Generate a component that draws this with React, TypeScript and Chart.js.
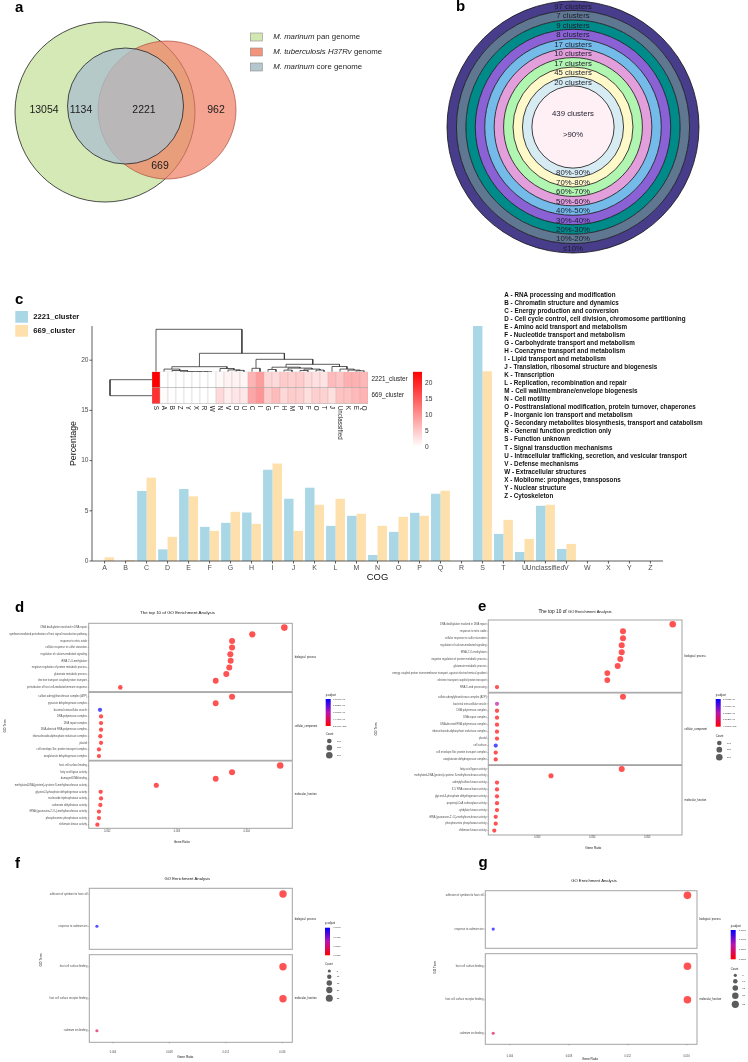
import React, { useEffect, useRef } from "react";
import { Chart, registerables } from "chart.js";

Chart.register(...registerables);

const W = 748;
const H = 1062;
const SANS = "'Liberation Sans', Arial, Helvetica, sans-serif";

// ================= Panel a : Venn =================
const vennSetNames = ["M. marinum pan genome", "M. tuberculosis H37Rv genome", "M. marinum core genome"];
const vennLegendParts: [string, boolean][][] = [
  [["M. marinum", true], [" pan genome", false]],
  [["M. tuberculosis H37Rv", true], [" genome", false]],
  [["M. marinum", true], [" core genome", false]],
];
// circle geometry in panel units (x 0..374, y 0..250)
const vennCircles = [
  { x: 105, y: 112, r: 90 },
  { x: 167, y: 110, r: 69 },
  { x: 125.5, y: 106, r: 58 },
];
const vennFill = ["#d5e9b6", "rgba(241,126,98,0.7)", "rgba(169,191,205,0.75)"];
const vennStroke = ["#222222", "rgba(160,70,50,0.8)", "#222222"];
const vennLegendFill = ["#d3e8b1", "#f4937b", "#b3c7cc"];
const vennRegionCounts = [13054, 1134, 2221, 962, 669];
const vennRegionAnchors = [[44, 110], [81, 110], [144, 110], [216, 110], [160, 166]];

// ================= Panel b : rings =================
const ringClusters = [97, 7, 9, 8, 17, 10, 17, 45, 20, 439];
const ringRanges = ["≤10%", "10%-20%", "20%-30%", "30%-40%", "40%-50%", "50%-60%", "60%-70%", "70%-80%", "80%-90%", ">90%"];
const ringColors = ["#483d8b", "#5f7791", "#008b8b", "#8a62d6", "#74bbea", "#e29fdc", "#b0f5b0", "#fff8c8", "#d6ecf2", "#fff0f5"];

// ================= Panel c : COG bars =================
const cogCategories = ["A", "B", "C", "D", "E", "F", "G", "H", "I", "J", "K", "L", "M", "N", "O", "P", "Q", "R", "S", "T", "U", "Unclassified", "V", "W", "X", "Y", "Z"];
const pct2221 = [0, 0, 6.97, 1.16, 7.17, 3.4, 3.8, 4.83, 9.1, 6.2, 7.3, 3.5, 4.5, 0.6, 2.9, 4.8, 6.7, 0, 23.4, 2.7, 0.9, 5.5, 1.2, 0, 0, 0, 0];
const pct669 = [0.37, 0.1, 8.3, 2.4, 6.44, 3.0, 4.9, 3.7, 9.7, 3.0, 5.6, 6.2, 4.7, 3.5, 4.4, 4.5, 7.0, 0, 18.9, 4.1, 2.2, 5.6, 1.7, 0, 0, 0, 0];
const seriesNames = ["2221_cluster", "669_cluster"];
const seriesColors = ["#aad7e6", "#fee0ad"];
const yTicksC = [0, 5, 10, 15, 20];
const cogDescriptions = [
  "A - RNA processing and modification",
  "B - Chromatin structure and dynamics",
  "C - Energy production and conversion",
  "D - Cell cycle control, cell division, chromosome partitioning",
  "E - Amino acid transport and metabolism",
  "F - Nucleotide transport and metabolism",
  "G - Carbohydrate transport and metabolism",
  "H - Coenzyme transport and metabolism",
  "I - Lipid transport and metabolism",
  "J - Translation, ribosomal structure and biogenesis",
  "K - Transcription",
  "L - Replication, recombination and repair",
  "M - Cell wall/membrane/envelope biogenesis",
  "N - Cell motility",
  "O - Posttranslational modification, protein turnover, chaperones",
  "P - Inorganic ion transport and metabolism",
  "Q - Secondary metabolites biosynthesis, transport and catabolism",
  "R - General function prediction only",
  "S - Function unknown",
  "T - Signal transduction mechanisms",
  "U - Intracellular trafficking, secretion, and vesicular transport",
  "V - Defense mechanisms",
  "W - Extracellular structures",
  "X - Mobilome: prophages, transposons",
  "Y - Nuclear structure",
  "Z - Cytoskeleton",
];
// heatmap (clustered column order)
const heatmapOrder = ["S", "A", "B", "Z", "Y", "X", "R", "W", "N", "V", "D", "U", "C", "I", "G", "L", "H", "M", "P", "F", "O", "T", "J", "Unclassified", "K", "E", "Q"];
const heatLegendTicks = [0, 5, 10, 15, 20];
// column dendrogram: [height, left, right]; leaves = column index in heatmapOrder
const colDendrogram: any = [42.4, 0, [18.4,
  [5, [2.6, 1, [1.2, 2, [0, 3, [0, 4, [0, 5, [0, 6, 7]]]]]], [3.2, 8, [1.8, 9, [1.3, 10, 11]]]],
  [12.4, [3.4, 12, 13], [7.4,
    [4.5, [2.2, 14, 15], [3.6, [1.6, 16, 17], [2.6, [1.2, 18, 19], [1.6, 20, 21]]]],
    [5.2, 22, [2.6, 23, [1.6, 24, [0.9, 25, 26]]]]]]]];
const rowDendrogramHeight = 42;

// ================= Panels d-g : GO dot plots =================
const dBpTerms = [
  "DNA dealkylation involved in DNA repair",
  "symbiont-mediated perturbation of host signal transduction pathway",
  "response to nitric oxide",
  "cellular response to sulfur starvation",
  "regulation of calcium-mediated signaling",
  "tRNA 2'-O-methylation",
  "negative regulation of protein metabolic process",
  "glutamate metabolic process",
  "electron transport coupled proton transport",
  "perturbation of host cell-mediated immune response",
];
const dBpRatio = [0.00454, 0.00408, 0.00379, 0.00379, 0.003765, 0.00377, 0.00375, 0.003707, 0.003555, 0.002187];
const dBpCount = [202, 182, 169, 169, 168, 168, 167, 165, 158, 97];
const dBpPadj = [1e-200, 1e-120, 1e-90, 1e-90, 1e-88, 1e-88, 1e-86, 1e-85, 1e-80, 1e-40];
const dCcTerms = [
  "sulfate adenylyltransferase complex (ATP)",
  "pyruvate dehydrogenase complex",
  "bacterial extracellular vesicle",
  "DNA polymerase complex",
  "DNA repair complex",
  "DNA-directed RNA polymerase complex",
  "ribonucleoside-diphosphate reductase complex",
  "plastid",
  "cell envelope Sec protein transport complex",
  "oxoglutarate dehydrogenase complex",
];
const dCcRatio = [0.00379, 0.003555, 0.001895, 0.00191, 0.00191, 0.00191, 0.0019, 0.00191, 0.00188, 0.00188];
const dCcCount = [169, 158, 84, 85, 85, 85, 85, 85, 84, 84];
const dCcPadj = [1e-90, 1e-80, 1.776e-6, 1e-30, 1e-30, 1e-30, 1e-30, 1e-30, 1e-30, 1e-30];
const dMfTerms = [
  "host cell surface binding",
  "fatty acid ligase activity",
  "damaged DNA binding",
  "methylated-DNA-[protein]-cysteine S-methyltransferase activity",
  "glycerol-3-phosphate dehydrogenase activity",
  "nucleoside triphosphatase activity",
  "carbonate dehydratase activity",
  "tRNA (guanosine-2'-O-)-methyltransferase activity",
  "phosphoserine phosphatase activity",
  "shikimate kinase activity",
];
const dMfRatio = [0.00448, 0.00379, 0.003555, 0.002703, 0.001905, 0.00191, 0.0019, 0.00188, 0.00188, 0.001857];
const dMfCount = [199, 169, 158, 120, 85, 85, 85, 84, 84, 83];
const dMfPadj = [1e-190, 1e-90, 1e-80, 1e-50, 1e-30, 1e-30, 1e-30, 1e-30, 1e-30, 1e-30];

const eBpTerms = [
  "DNA dealkylation involved in DNA repair",
  "response to nitric oxide",
  "cellular response to sulfur starvation",
  "regulation of calcium-mediated signaling",
  "tRNA 2'-O-methylation",
  "negative regulation of protein metabolic process",
  "glutamate metabolic process",
  "energy coupled proton transmembrane transport, against electrochemical gradient",
  "electron transport coupled proton transport",
  "RNA 5'-end processing",
];
const eBpRatio = [0.005462, 0.004558, 0.004558, 0.004535, 0.004535, 0.004509, 0.004462, 0.004273, 0.004273, 0.002267];
const eBpCount = [202, 169, 169, 168, 168, 167, 165, 158, 158, 84];
const eBpPadj = [1e-240, 1e-120, 1e-120, 1e-118, 1e-118, 1e-116, 1e-110, 1e-100, 1e-100, 1e-30];
const eCcTerms = [
  "sulfate adenylyltransferase complex (ATP)",
  "bacterial extracellular vesicle",
  "DNA polymerase complex",
  "DNA repair complex",
  "DNA-directed RNA polymerase complex",
  "ribonucleoside-diphosphate reductase complex",
  "plastid",
  "cell surface",
  "cell envelope Sec protein transport complex",
  "oxoglutarate dehydrogenase complex",
];
const eCcRatio = [0.004558, 0.002267, 0.002267, 0.002267, 0.002267, 0.002267, 0.002267, 0.002244, 0.002244, 0.002244];
const eCcCount = [169, 84, 84, 84, 84, 84, 84, 83, 83, 83];
const eCcPadj = [1e-120, 2.5e-6, 1e-30, 1e-30, 1e-30, 1e-30, 1e-30, 5.45e-6, 1e-30, 1e-30];
const eMfTerms = [
  "fatty acid ligase activity",
  "methylated-DNA-[protein]-cysteine S-methyltransferase activity",
  "adenylylsulfate kinase activity",
  "3'-5' RNA exonuclease activity",
  "glycerol-3-phosphate dehydrogenase activity",
  "propionyl-CoA carboxylase activity",
  "cytidylate kinase activity",
  "tRNA (guanosine-2'-O-)-methyltransferase activity",
  "phosphoserine phosphatase activity",
  "shikimate kinase activity",
];
const eMfRatio = [0.004535, 0.003249, 0.002267, 0.002267, 0.002267, 0.002267, 0.002267, 0.002244, 0.002244, 0.002218];
const eMfCount = [168, 120, 84, 84, 84, 84, 84, 83, 83, 82];
const eMfPadj = [1e-118, 1e-60, 1e-30, 1e-30, 1e-30, 1e-30, 1e-30, 1e-30, 1e-30, 1e-30];

const fgBpTerms = ["adhesion of symbiont to host cell", "response to cadmium ion"];
const fgBpRatio = [0.01605, 0.00286];
const fgBpCount = [28, 5];
const fgBpPadj = [0.0001, 0.0624];
const fgMfTerms = ["host cell surface binding", "host cell surface receptor binding", "cadmium ion binding"];
const fgMfRatio = [0.01605, 0.01605, 0.00286];
const fgMfCount = [28, 28, 5];
const fgMfPadj = [0.0001, 0.0001, 0.016];

const dTicks = [0.002, 0.003, 0.004];
const eTicks = [0.003, 0.004, 0.005];
const fgTicks = [0.004, 0.008, 0.012, 0.016];
const dPLabels = ["1.7760e-06", "1.3320e-06", "8.8800e-07", "4.4400e-07", "2.5400e-203"];
const ePLabels = ["5.4505e-06", "4.0879e-06", "2.7253e-06", "1.3626e-06", "4.7300e-243"];
const fgPLabels = ["0.0600", "0.0450", "0.0300", "0.0150"];
const deCountBreaks = [100, 150, 200];
const fgCountBreaks = [5, 10, 15, 20, 25];

// ================= helpers =================
type TOpt = { weight?: string; style?: string; color?: string; align?: CanvasTextAlign; baseline?: CanvasTextBaseline; rot?: number };
function txt(ctx: CanvasRenderingContext2D, s: string, x: number, y: number, size: number, o: TOpt = {}) {
  ctx.save();
  ctx.font = `${o.style || "normal"} ${o.weight || "normal"} ${size}px ${SANS}`;
  ctx.fillStyle = o.color || "#000";
  ctx.textAlign = o.align || "left";
  ctx.textBaseline = o.baseline || "middle";
  ctx.translate(x, y);
  if (o.rot) ctx.rotate(o.rot);
  ctx.fillText(s, 0, 0);
  ctx.restore();
}
function line(ctx: CanvasRenderingContext2D, x1: number, y1: number, x2: number, y2: number, color: string, w: number) {
  ctx.save();
  ctx.strokeStyle = color;
  ctx.lineWidth = w;
  ctx.beginPath();
  ctx.moveTo(x1, y1);
  ctx.lineTo(x2, y2);
  ctx.stroke();
  ctx.restore();
}
function base(box: number[]) {
  return {
    responsive: false,
    maintainAspectRatio: false,
    animation: false,
    devicePixelRatio: 1,
    events: [],
    layout: { autoPadding: false, padding: { left: box[0], top: box[1], right: W - box[2], bottom: H - box[3] } },
    plugins: { legend: { display: false }, tooltip: { enabled: false }, title: { display: false } },
  } as any;
}
const P_STOPS = [[255, 0, 0], [185, 20, 175], [0, 0, 255]];
function pRgb(frac: number) {
  const f = Math.max(0, Math.min(1, frac));
  const seg = f < 0.5 ? 0 : 1;
  const t = f < 0.5 ? f / 0.5 : (f - 0.5) / 0.5;
  const a = P_STOPS[seg], b = P_STOPS[seg + 1];
  return [0, 1, 2].map((i) => Math.round(a[i] + (b[i] - a[i]) * t));
}
function pColor(frac: number, alpha: number) {
  const c = pRgb(frac);
  return `rgba(${c[0]},${c[1]},${c[2]},${alpha})`;
}
const heatMax = Math.max(...pct2221, ...pct669);
function heatColor(v: number) {
  const t = v / heatMax;
  const g = Math.round(255 * (1 - t));
  return `rgb(255,${g},${g})`;
}

// ================= configs =================
function vennConfig() {
  return {
    type: "bubble",
    data: {
      datasets: vennSetNames.map((name, i) => ({
        label: name,
        data: [vennCircles[i]],
        backgroundColor: vennFill[i],
        borderColor: vennStroke[i],
        borderWidth: 0.8,
        hoverBorderWidth: 0.8,
        order: 3 - i,
      })),
    },
    options: {
      ...base([0, 0, 374, 250]),
      scales: {
        x: { type: "linear", min: 0, max: 374, display: false },
        y: { type: "linear", min: 0, max: 250, reverse: true, display: false },
      },
    },
    plugins: [
      {
        id: "vennText",
        afterDraw(chart: any) {
          const ctx = chart.ctx;
          const xs = chart.scales.x, ys = chart.scales.y;
          txt(ctx, "a", 15, 12, 15, { weight: "bold", baseline: "alphabetic" });
          vennRegionCounts.forEach((c, i) => {
            txt(ctx, String(c), xs.getPixelForValue(vennRegionAnchors[i][0]), ys.getPixelForValue(vennRegionAnchors[i][1]), 10.5, { align: "center", color: "#1a1a1a" });
          });
          vennLegendParts.forEach((parts, i) => {
            const y = 37 + i * 15;
            ctx.save();
            ctx.fillStyle = vennLegendFill[i];
            ctx.strokeStyle = "#8c8c8c";
            ctx.lineWidth = 0.6;
            ctx.fillRect(250.3, y - 4, 12, 8);
            ctx.strokeRect(250.3, y - 4, 12, 8);
            ctx.restore();
            let cx = 273.3;
            parts.forEach(([s, it]) => {
              ctx.save();
              ctx.font = `${it ? "italic " : ""}7.8px ${SANS}`;
              ctx.fillStyle = "#222";
              ctx.textBaseline = "middle";
              ctx.fillText(s, cx, y);
              cx += ctx.measureText(s).width;
              ctx.restore();
            });
          });
        },
      },
    ],
  };
}

function ringConfig() {
  const innerW = 4.36;
  return {
    type: "doughnut",
    data: {
      labels: ["clusters"],
      datasets: ringClusters.map((n, i) => ({
        label: ringRanges[i],
        data: [n],
        backgroundColor: ringColors[i],
        borderWidth: 0,
        hoverOffset: 0,
        offset: 0,
        weight: i === ringClusters.length - 1 ? innerW : 1,
      })),
    },
    options: { ...base([447, 1, 699, 253]), cutout: 0 },
    plugins: [
      {
        id: "ringText",
        afterDraw(chart: any) {
          const ctx = chart.ctx;
          txt(ctx, "b", 456, 11, 15, { weight: "bold", baseline: "alphabetic" });
          // ring outlines (drawn as closed circles, no seam)
          ringClusters.forEach((n, i) => {
            const arc = chart.getDatasetMeta(i).data[0];
            ctx.save();
            ctx.strokeStyle = "#111";
            ctx.lineWidth = 0.8;
            ctx.beginPath();
            ctx.arc(arc.x, arc.y, arc.outerRadius, 0, Math.PI * 2);
            ctx.stroke();
            ctx.restore();
          });
          ringClusters.forEach((n, i) => {
            const arc = chart.getDatasetMeta(i).data[0];
            const { x, y, innerRadius, outerRadius } = arc;
            const col = "#1c1c2c";
            if (innerRadius < 1) {
              txt(ctx, `${n} clusters`, x, y - outerRadius * 0.31, 7.8, { align: "center", color: col });
              txt(ctx, ringRanges[i], x, y + outerRadius * 0.2, 7.8, { align: "center", color: col });
            } else {
              const m = (innerRadius + outerRadius) / 2;
              txt(ctx, `${n} clusters`, x, y - m + 1.2, 7.8, { align: "center", color: col });
              txt(ctx, ringRanges[i], x, y + m + 0.4, 7.8, { align: "center", color: col });
            }
          });
        },
      },
    ],
  };
}

const C_LEFT = 92, C_RIGHT = 663, C_BOTTOM = 561, C_UNIT = 10.04;
function barConfig() {
  const n = cogCategories.length;
  const catW = (C_RIGHT - C_LEFT) / (n + 0.2);
  const inset = 0.1 * catW;
  const yMax = Math.max(...pct2221, ...pct669);
  const top = C_BOTTOM - yMax * C_UNIT;
  return {
    type: "bar",
    data: {
      labels: cogCategories,
      datasets: [pct2221, pct669].map((d, i) => ({
        label: seriesNames[i],
        data: d,
        backgroundColor: seriesColors[i],
        borderWidth: 0,
        categoryPercentage: 0.9,
        barPercentage: 1,
      })),
    },
    options: {
      ...base([C_LEFT + inset, top, C_RIGHT - inset, C_BOTTOM]),
      scales: {
        x: { display: false },
        y: { display: false, min: 0, max: yMax },
      },
    },
    plugins: [
      {
        id: "cogAxes",
        afterDraw(chart: any) {
          const ctx = chart.ctx;
          const a = chart.chartArea;
          const xs = chart.scales.x, ys = chart.scales.y;
          const axc = "#333";
          line(ctx, C_LEFT, a.top, C_LEFT, a.bottom, axc, 0.8);
          line(ctx, C_LEFT, a.bottom, C_RIGHT, a.bottom, axc, 0.8);
          yTicksC.forEach((v) => {
            const y = ys.getPixelForValue(v);
            line(ctx, C_LEFT - 2.5, y, C_LEFT, y, axc, 0.8);
            txt(ctx, String(v), C_LEFT - 3.5, y, 6.6, { align: "right", color: "#4d4d4d" });
          });
          cogCategories.forEach((c, i) => {
            const x = xs.getPixelForValue(i);
            line(ctx, x, a.bottom, x, a.bottom + 2.5, axc, 0.8);
            txt(ctx, c, x, a.bottom + 7.5, 7, { align: "center", color: "#4d4d4d" });
          });
          txt(ctx, "COG", (C_LEFT + C_RIGHT) / 2, 577.5, 9.4, { align: "center", color: "#111" });
          txt(ctx, "Percentage", 74, 443.5, 8.8, { align: "center", color: "#111", rot: -Math.PI / 2 });
          txt(ctx, "c", 15, 304, 15, { weight: "bold", baseline: "alphabetic" });
          seriesNames.forEach((s, i) => {
            ctx.save();
            ctx.fillStyle = seriesColors[i];
            ctx.fillRect(15.3, 311 + i * 14, 12.7, 11.7);
            ctx.restore();
            txt(ctx, s, 33.3, 317.2 + i * 14, 7.6, { weight: "bold", color: "#111" });
          });
          cogDescriptions.forEach((s, i) => {
            txt(ctx, s, 504.3, 295 + i * 8.04, 6.3, { weight: "bold", color: "#111" });
          });
        },
      },
    ],
  };
}

function dendroSegments(node: any, out: any[]): { x: number; h: number } {
  if (typeof node === "number") return { x: node, h: 0 };
  const [h, l, r] = node;
  const A = dendroSegments(l, out);
  const B = dendroSegments(r, out);
  out.push({ x: A.x, y: A.h }, { x: A.x, y: h }, { x: B.x, y: h }, { x: B.x, y: B.h }, { x: B.x, y: null });
  return { x: (A.x + B.x) / 2, h };
}

const HM_LEFT = 152, HM_RIGHT = 368, HM_TOP = 371.7, HM_BOTTOM = 403.7;
function heatConfig() {
  const cellW = (HM_RIGHT - HM_LEFT) / heatmapOrder.length; // px per column
  const rowH = (HM_BOTTOM - HM_TOP) / 2; // px per row
  const segs: any[] = [];
  dendroSegments(colDendrogram, segs);
  const colLine = segs.map((p) => ({ x: p.x, y: p.y === null ? null : 2 + p.y / rowH }));
  const rx = -0.5 - rowDendrogramHeight / cellW;
  const rowLine = [{ x: -0.5, y: 1.5 }, { x: rx, y: 1.5 }, { x: rx, y: 0.5 }, { x: -0.5, y: 0.5 }];
  const val = (arr: number[], c: string) => arr[cogCategories.indexOf(c)];
  const dendroStyle = { type: "line", borderColor: "#333", borderWidth: 0.8, pointRadius: 0, clip: false, spanGaps: false, fill: false, tension: 0 };
  return {
    type: "bar",
    data: {
      datasets: [
        {
          label: "669_cluster",
          data: heatmapOrder.map((c, i) => ({ x: i, y: [0, 1] })),
          backgroundColor: heatmapOrder.map((c) => heatColor(val(pct669, c))),
          borderColor: "#a8a8a8",
          borderWidth: 0.5,
          borderSkipped: false,
          grouped: false,
          categoryPercentage: 1,
          barPercentage: 1,
        },
        {
          label: "2221_cluster",
          data: heatmapOrder.map((c, i) => ({ x: i, y: [1, 2] })),
          backgroundColor: heatmapOrder.map((c) => heatColor(val(pct2221, c))),
          borderColor: "#a8a8a8",
          borderWidth: 0.5,
          borderSkipped: false,
          grouped: false,
          categoryPercentage: 1,
          barPercentage: 1,
        },
        { ...dendroStyle, label: "col dendrogram", data: colLine },
        { ...dendroStyle, label: "row dendrogram", data: rowLine },
      ],
    },
    options: {
      ...base([HM_LEFT, HM_TOP, HM_RIGHT, HM_BOTTOM]),
      scales: {
        x: { type: "linear", min: -0.5, max: heatmapOrder.length - 0.5, display: false, offset: false },
        y: { type: "linear", min: 0, max: 2, display: false },
      },
    },
    plugins: [
      {
        id: "heatText",
        afterDraw(chart: any) {
          const ctx = chart.ctx;
          const a = chart.chartArea;
          const xs = chart.scales.x, ys = chart.scales.y;
          heatmapOrder.forEach((c, i) => {
            txt(ctx, c, xs.getPixelForValue(i), a.bottom + 2, 6.3, { rot: Math.PI / 2, color: "#222" });
          });
          txt(ctx, "2221_cluster", a.right + 3.5, ys.getPixelForValue(1.5), 6.3, { color: "#222" });
          txt(ctx, "669_cluster", a.right + 3.5, ys.getPixelForValue(0.5), 6.3, { color: "#222" });
          // colour key
          const kx = 413, kw = 9, unit = 3.2, k0 = 446.7;
          const kTop = k0 - heatMax * unit;
          const g = ctx.createLinearGradient(0, kTop, 0, k0);
          g.addColorStop(0, "rgb(255,0,0)");
          g.addColorStop(1, "rgb(255,255,255)");
          ctx.save();
          ctx.fillStyle = g;
          ctx.fillRect(kx, kTop, kw, k0 - kTop);
          ctx.restore();
          heatLegendTicks.forEach((v) => txt(ctx, String(v), kx + 12, k0 - v * unit, 6.6, { color: "#333" }));
        },
      },
    ],
  };
}

type Facet = { name: string; terms: string[]; ratio: number[]; count: number[]; padj: number[]; box: number[]; yRange: number[] };
type DotPanel = {
  letter: string; letterPos: number[];
  titleParts: [string, number][]; titlePos: number[];
  xRange: number[]; xTicks: number[]; tickDigits: number; tickY: number;
  xTitlePos: number[]; yTitlePos: number[];
  k: number; pMax: number; labelSize: number;
  facets: Facet[];
  legend: { x: number; pTitleY: number; barTop: number; barBottom: number; pLabels: string[]; pLabelX: number; cTitleY: number; counts: number[]; countY: number[]; dotX: number; cLabelX: number };
};

const panelD: DotPanel = {
  letter: "d", letterPos: [15, 611.7],
  titleParts: [["The top 10 of GO Enrichment Analysis", 4.4]], titlePos: [177.5, 613],
  xRange: [0.001733, 0.004654], xTicks: dTicks, tickDigits: 3, tickY: 831.7,
  xTitlePos: [181.7, 842], yTitlePos: [5, 726], k: 0.232, pMax: 1.776e-6, labelSize: 2.6,
  facets: [
    { name: "biological_process", terms: dBpTerms, ratio: dBpRatio, count: dBpCount, padj: dBpPadj, box: [88.7, 623.3, 292.3, 691.7], yRange: [-0.65, 9.65] },
    { name: "cellular_component", terms: dCcTerms, ratio: dCcRatio, count: dCcCount, padj: dCcPadj, box: [88.7, 692.4, 292.3, 760.3], yRange: [-0.65, 9.65] },
    { name: "molecular_function", terms: dMfTerms, ratio: dMfRatio, count: dMfCount, padj: dMfPadj, box: [88.7, 761, 292.3, 828.3], yRange: [-0.7, 9.55] },
  ],
  legend: { x: 325.7, pTitleY: 695.7, barTop: 699, barBottom: 726, pLabels: dPLabels, pLabelX: 333, cTitleY: 734.7, counts: deCountBreaks, countY: [741, 747.7, 755.3], dotX: 329.3, cLabelX: 337 },
};
const panelE: DotPanel = {
  letter: "e", letterPos: [478, 611],
  titleParts: [["The top 10 of ", 4.8], ["GO Enrichment Analysis", 4.0]], titlePos: [575, 611.7],
  xRange: [0.002109, 0.005631], xTicks: eTicks, tickDigits: 3, tickY: 837.3,
  xTitlePos: [593.3, 847.7], yTitlePos: [376, 729], k: 0.232, pMax: 5.45e-6, labelSize: 2.6,
  facets: [
    { name: "biological_process", terms: eBpTerms, ratio: eBpRatio, count: eBpCount, padj: eBpPadj, box: [488.3, 620, 682, 692.3], yRange: [-0.6, 9.75] },
    { name: "cellular_component", terms: eCcTerms, ratio: eCcRatio, count: eCcCount, padj: eCcPadj, box: [488.3, 693, 682, 764.7], yRange: [-0.55, 9.75] },
    { name: "molecular_function", terms: eMfTerms, ratio: eMfRatio, count: eMfCount, padj: eMfPadj, box: [488.3, 765.5, 682, 835], yRange: [-0.5, 9.65] },
  ],
  legend: { x: 715.7, pTitleY: 695.7, barTop: 699, barBottom: 726.7, pLabels: ePLabels, pLabelX: 723, cTitleY: 736.7, counts: deCountBreaks, countY: [743, 749.7, 757.3], dotX: 719.3, cLabelX: 727 },
};
const panelF: DotPanel = {
  letter: "f", letterPos: [15, 868.3],
  titleParts: [["GO Enrichment Analysis", 4.2]], titlePos: [187.3, 879.3],
  xRange: [0.00232, 0.01671], xTicks: fgTicks, tickDigits: 3, tickY: 1052.7,
  xTitlePos: [185.3, 1056.7], yTitlePos: [41, 960], k: 0.7, pMax: 0.0624, labelSize: 2.6,
  facets: [
    { name: "biological_process", terms: fgBpTerms, ratio: fgBpRatio, count: fgBpCount, padj: fgBpPadj, box: [89.3, 888.3, 292.3, 949.3], yRange: [-0.176, 1.712] },
    { name: "molecular_function", terms: fgMfTerms, ratio: fgMfRatio, count: fgMfCount, padj: fgMfPadj, box: [89.3, 954.7, 292.3, 1042.3], yRange: [-0.375, 2.36] },
  ],
  legend: { x: 325, pTitleY: 923.7, barTop: 927.7, barBottom: 955.3, pLabels: fgPLabels, pLabelX: 333.3, cTitleY: 964.7, counts: fgCountBreaks, countY: [971, 976.7, 983, 990, 998.3], dotX: 329.3, cLabelX: 336.7 },
};
const panelG: DotPanel = {
  letter: "g", letterPos: [478.5, 867],
  titleParts: [["GO Enrichment Analysis", 4.2]], titlePos: [594, 880.7],
  xRange: [0.002323, 0.0167], xTicks: fgTicks, tickDigits: 3, tickY: 1056,
  xTitlePos: [590, 1059.5], yTitlePos: [435, 967.3], k: 0.72, pMax: 0.0624, labelSize: 2.6,
  facets: [
    { name: "biological_process", terms: fgBpTerms, ratio: fgBpRatio, count: fgBpCount, padj: fgBpPadj, box: [485.3, 890.7, 697, 948.3], yRange: [-0.137, 1.57] },
    { name: "molecular_function", terms: fgMfTerms, ratio: fgMfRatio, count: fgMfCount, padj: fgMfPadj, box: [485.3, 953.7, 697, 1044.3], yRange: [-0.376, 2.33] },
  ],
  legend: { x: 730.7, pTitleY: 926.7, barTop: 930, barBottom: 959.3, pLabels: fgPLabels, pLabelX: 738.7, cTitleY: 969, counts: fgCountBreaks, countY: [975.3, 981.3, 988, 995.7, 1004.3], dotX: 735.3, cLabelX: 742.3 },
};

function drawPanelExtras(ctx: CanvasRenderingContext2D, p: DotPanel) {
  txt(ctx, p.letter, p.letterPos[0], p.letterPos[1], 15, { weight: "bold", baseline: "alphabetic" });
  ctx.save();
  let total = 0;
  const widths = p.titleParts.map(([s, sz]) => {
    ctx.font = `${sz}px ${SANS}`;
    const w = ctx.measureText(s).width;
    total += w;
    return w;
  });
  ctx.restore();
  let cx = p.titlePos[0] - total / 2;
  p.titleParts.forEach(([s, sz], i) => {
    txt(ctx, s, cx, p.titlePos[1], sz, { color: "#111" });
    cx += widths[i];
  });
  txt(ctx, "Gene Ratio", p.xTitlePos[0], p.xTitlePos[1], 3.2, { align: "center", color: "#111" });
  txt(ctx, "GO Term", p.yTitlePos[0], p.yTitlePos[1], 3.2, { align: "center", color: "#111", rot: -Math.PI / 2 });
  const L = p.legend;
  txt(ctx, "p.adjust", L.x, L.pTitleY, 2.9, { color: "#222" });
  const g = ctx.createLinearGradient(0, L.barTop, 0, L.barBottom);
  g.addColorStop(0, pColor(1, 1));
  g.addColorStop(0.5, pColor(0.5, 1));
  g.addColorStop(1, pColor(0, 1));
  ctx.save();
  ctx.fillStyle = g;
  ctx.fillRect(L.x, L.barTop, 5, L.barBottom - L.barTop);
  ctx.restore();
  L.pLabels.forEach((s, i) => {
    const y = L.barTop + ((L.barBottom - L.barTop) * i) / (L.pLabels.length - 1);
    txt(ctx, s, L.pLabelX, y, 2.4, { color: "#333" });
  });
  txt(ctx, "Count", L.x, L.cTitleY, 2.9, { color: "#222" });
  L.counts.forEach((c, i) => {
    ctx.save();
    ctx.fillStyle = "#5c5c5c";
    ctx.beginPath();
    ctx.arc(L.dotX, L.countY[i], Math.sqrt(c) * p.k, 0, Math.PI * 2);
    ctx.fill();
    ctx.restore();
    txt(ctx, String(c), L.cLabelX, L.countY[i], 2.4, { color: "#333" });
  });
}

function dotFacetConfig(p: DotPanel, fi: number) {
  const f = p.facets[fi];
  return {
    type: "scatter",
    data: {
      datasets: [
        {
          label: f.name,
          data: f.ratio.map((x, i) => ({ x, y: i })),
          pointRadius: f.count.map((c) => Math.sqrt(c) * p.k),
          pointHoverRadius: f.count.map((c) => Math.sqrt(c) * p.k),
          pointBackgroundColor: f.padj.map((v) => pColor(v / p.pMax, 0.68)),
          pointBorderWidth: 0,
          pointBorderColor: "rgba(0,0,0,0)",
        },
      ],
    },
    options: {
      ...base(f.box),
      scales: {
        x: { type: "linear", min: p.xRange[0], max: p.xRange[1], display: false },
        y: { type: "linear", min: f.yRange[0], max: f.yRange[1], reverse: true, display: false },
      },
    },
    plugins: [
      {
        id: "facet" + p.letter + fi,
        afterDraw(chart: any) {
          const ctx = chart.ctx;
          const a = chart.chartArea;
          const xs = chart.scales.x, ys = chart.scales.y;
          ctx.save();
          ctx.strokeStyle = "#a3a3a3";
          ctx.lineWidth = 1;
          ctx.strokeRect(a.left, a.top, a.right - a.left, a.bottom - a.top);
          ctx.restore();
          f.terms.forEach((s, i) => {
            const y = ys.getPixelForValue(i);
            line(ctx, a.left - 1, y, a.left, y, "#555", 0.4);
            txt(ctx, s, a.left - 1.8, y, p.labelSize, { align: "right", color: "#4d4d4d" });
          });
          txt(ctx, f.name, a.right + 2.5, (a.top + a.bottom) / 2, p.labelSize, { color: "#1a1a1a" });
          if (fi === p.facets.length - 1) {
            p.xTicks.forEach((v) => {
              const x = xs.getPixelForValue(v);
              line(ctx, x, a.bottom, x, a.bottom + 1, "#555", 0.4);
              txt(ctx, v.toFixed(p.tickDigits), x, p.tickY, p.labelSize, { align: "center", color: "#4d4d4d" });
            });
          }
          if (fi === 0) drawPanelExtras(ctx, p);
        },
      },
    ],
  };
}

// ================= React =================
function PageChart({ make }: { make: () => any }) {
  const ref = useRef<HTMLCanvasElement | null>(null);
  useEffect(() => {
    const chart = new Chart(ref.current as HTMLCanvasElement, make());
    return () => chart.destroy();
  }, []);
  return <canvas ref={ref} width={W} height={H} style={{ position: "absolute", left: 0, top: 0, width: W, height: H }} />;
}

export default function App() {
  const makers: (() => any)[] = [vennConfig, ringConfig, barConfig, heatConfig];
  [panelD, panelE, panelF, panelG].forEach((p) => {
    p.facets.forEach((_, fi) => makers.push(() => dotFacetConfig(p, fi)));
  });
  return (
    <div style={{ position: "absolute", left: 0, top: 0, width: W, height: H, background: "#fff", overflow: "hidden" }}>
      {makers.map((m, i) => (
        <PageChart key={i} make={m} />
      ))}
    </div>
  );
}
